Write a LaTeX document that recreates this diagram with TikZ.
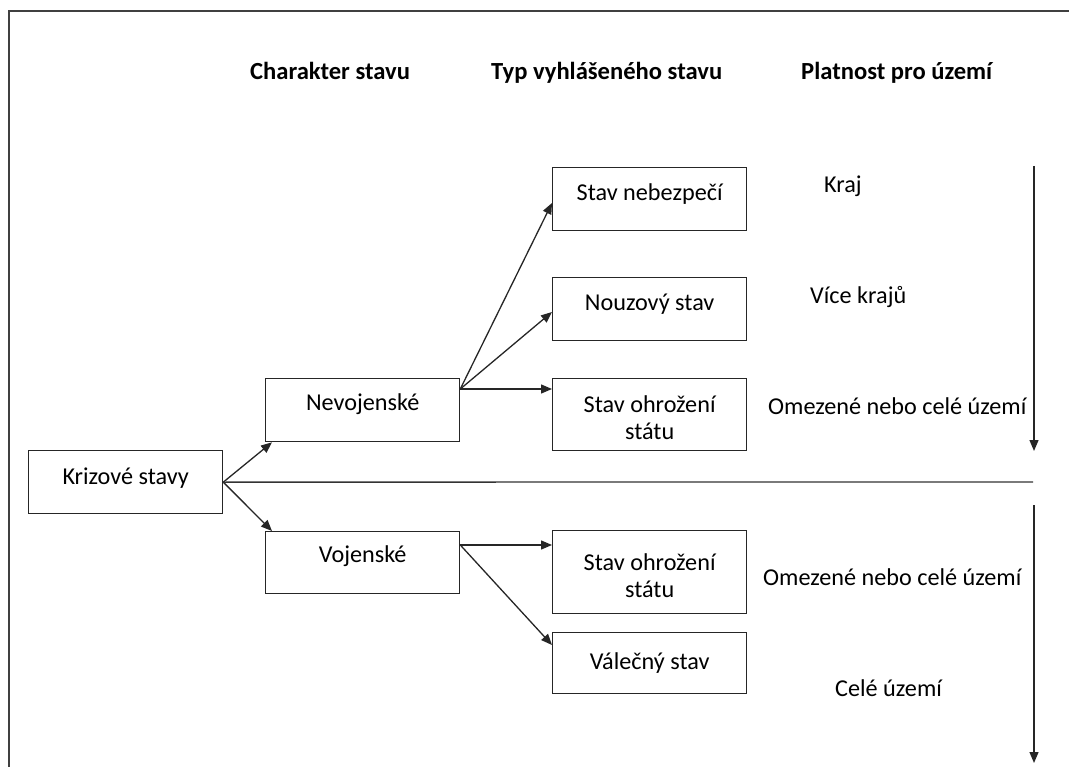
\documentclass[tikz,border=0pt]{standalone}
\usepackage{fontspec}
\setmainfont{Carlito}
\usetikzlibrary{arrows.meta,calc}
\tikzset{
  box/.style={draw=black!85, line width=1.3pt, anchor=north west, inner sep=0pt,
    font=\fontsize{24.2}{26.5}\selectfont, text height=16pt, text depth=13pt},
  head/.style={anchor=base west, inner sep=0pt, font=\fontsize{24.6}{26.5}\selectfont\bfseries},
  lab/.style={anchor=base west, inner sep=0pt, font=\fontsize{24.2}{26.5}\selectfont},
  conn/.style={line width=1.3pt, draw=black!85, -{Triangle[length=11pt,width=9pt]}},
  plain/.style={line width=1.3pt, draw=black!80},
}
\begin{document}
\begin{tikzpicture}[x=1pt,y=-1pt]
\useasboundingbox (0,0) rectangle (1069,767);
% frame (partly cut off)
\draw[line width=1.5pt, draw=black!75] (9,767) -- (9,11) -- (1069,11);
% headers
\node[head] (h1) at (250,80) {Charakter stavu};
\node[head] (h2) at (491,80) {Typ vyhlášeného stavu};
\node[head] (h3) at (801,80) {Platnost pro území};
% boxes
\node[box, minimum width=194pt, minimum height=63pt, text height=17pt, text depth=12pt] (kr) at (28,450) {Krizové stavy};
\node[box, minimum width=194pt, minimum height=63pt, text height=15pt, text depth=14pt] (nev) at (265,378) {Nevojenské};
\node[box, minimum width=194pt, minimum height=62pt, text height=15pt, text depth=15pt] (voj) at (265,531) {Vojenské};
\node[box, minimum width=194pt, minimum height=63pt] (neb) at (552,167) {Stav nebezpečí};
\node[box, minimum width=194pt, minimum height=63pt] (nouz) at (552,277) {Nouzový stav};
\node[box, minimum width=194pt, minimum height=72pt, text height=20pt, text depth=24pt] (oh1) at (552,378)
  {\begin{tabular}[t]{@{}c@{}}Stav ohrožení\\státu\end{tabular}};
\node[box, minimum width=194pt, minimum height=83pt, text height=20pt, text depth=23pt] (oh2) at (552,530)
  {\begin{tabular}[t]{@{}c@{}}Stav ohrožení\\státu\end{tabular}};
\node[box, minimum width=194pt, minimum height=61pt, text height=20pt, text depth=7pt] (val) at (552,632) {Válečný stav};
% right labels
\node[lab] (l1) at (824,193) {Kraj};
\node[lab] (l2) at (810,304) {Více krajů};
\node[lab] (l3) at (768,415) {Omezené nebo celé území};
\node[lab] (l4) at (763,585) {Omezené nebo celé území};
\node[lab] (l5) at (835,696) {Celé území};
% connector points
\coordinate (no) at ($(nev.north east)+(0,11)$);
\coordinate (vo) at ($(voj.north east)+(0,14)$);
\coordinate (hr) at (1033,482);
\coordinate (a1s) at (1034,166);
\coordinate (a1e) at (1034,451);
\coordinate (a2s) at (1034,505);
\coordinate (a2e) at (1034,763);
% connectors
\draw[conn] (kr.east) -- ($(nev.south west)+(7,0)$);
\draw[conn] (kr.east) -- ($(voj.north west)+(7,0)$);
\draw[plain] (kr.east) -- (hr);
\draw[conn] (no) -- ($(neb.north west)+(0,36)$);
\draw[conn] (no) -- ($(nouz.north west)+(0,35)$);
\draw[conn] (no) -- (oh1.west |- no);
\draw[conn] (vo) -- (oh2.west |- vo);
\draw[conn] (vo) -- ($(val.north west)+(0,13)$);
\draw[conn] (a1s) -- (a1e);
\draw[conn] (a2s) -- (a2e);
\end{tikzpicture}
\end{document}
